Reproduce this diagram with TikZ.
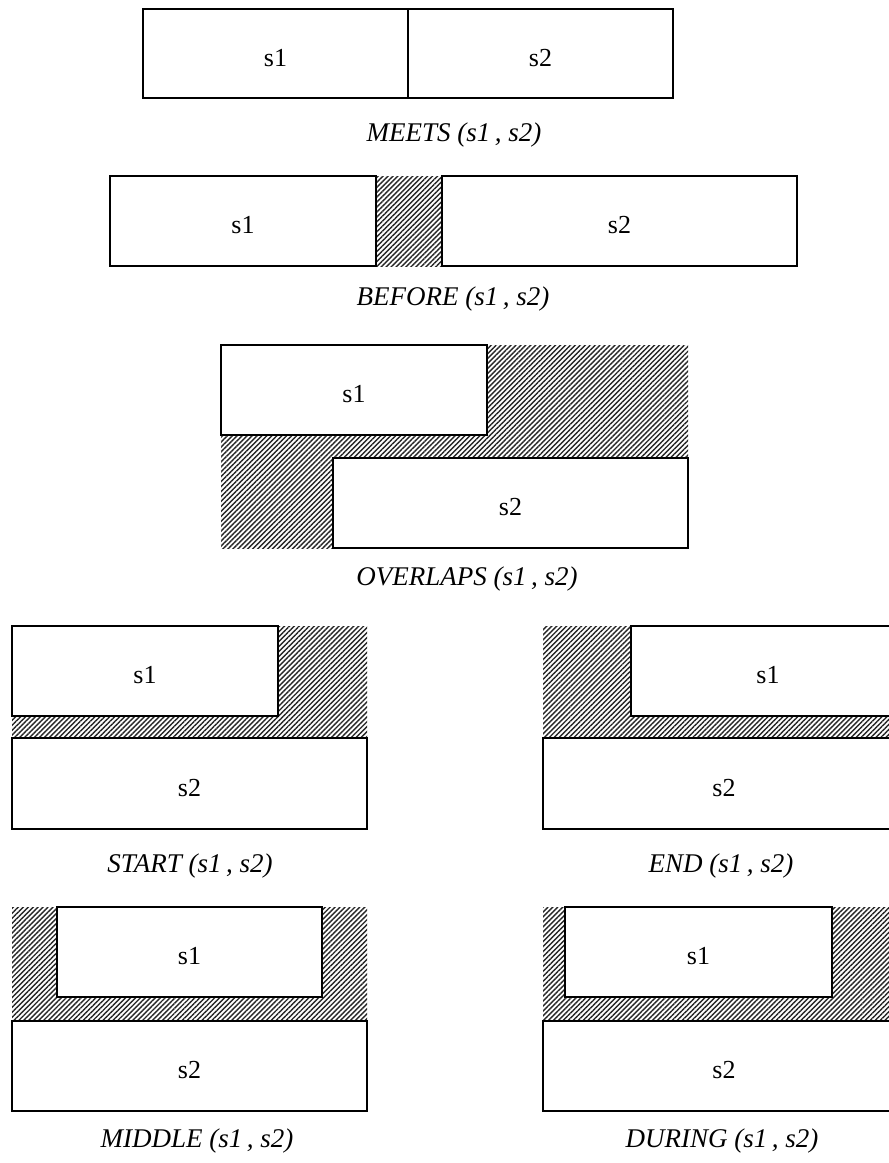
\documentclass[tikz,border=0pt]{standalone}
\usepackage{fontspec}
\setmainfont{Liberation Serif}
\usetikzlibrary{patterns.meta}

% interval box: name, x1, y1, x2, y2, text
\newcommand\ivbox[6]{%
  \node[segbox, minimum width={(#4-#2)*1pt}, minimum height={(#5-#3)*1pt}]
    (#1) at ({(#2+#4)/2},{(#3+#5)/2}) {#6};}
% hatched gap region: x1, y1, x2, y2
\newcommand\gap[4]{\fill[hatch] (#1,#2) rectangle (#3,#4);}

\tikzset{
  segbox/.style={draw=black, fill=white, line width=1.7pt, inner sep=0pt,
    outer sep=0pt, text height=25pt, text depth=0pt,
    font=\fontsize{26}{30}\selectfont},
  hatch/.style={pattern={Lines[angle=45,distance=3.5pt,line width=1.4pt]},
    pattern color=black!85},
  caption/.style={font=\fontsize{27}{32}\selectfont\itshape, inner sep=0pt}
}

\begin{document}
\begin{tikzpicture}[x=1pt,y=-1pt]
\useasboundingbox (0,0) rectangle (889,1163);
\clip (0,0) rectangle (889,1163);

% MEETS
\ivbox{ms1}{143}{9}{408}{98}{s1}
\ivbox{ms2}{408}{9}{673}{98}{s2}
\node[caption] (lmeets) at (454,135) {MEETS (s1\,, s2)};

% BEFORE
\gap{376}{176}{442}{266}
\ivbox{bs1}{110}{176}{376}{266}{s1}
\ivbox{bs2}{442}{176}{797}{266}{s2}
\node[caption] (lbefore) at (453,299) {BEFORE (s1\,, s2)};

% OVERLAPS
\gap{221}{345}{688}{548}
\ivbox{os1}{221}{345}{487}{435}{s1}
\ivbox{os2}{333}{458}{688}{548}{s2}
\node[caption] (loverlaps) at (467,579) {OVERLAPS (s1\,, s2)};

% START
\gap{12}{626}{367}{738}
\ivbox{ss1}{12}{626}{278}{716}{s1}
\ivbox{ss2}{12}{738}{367}{829}{s2}
\node[caption] (lstart) at (190,866) {START (s1\,, s2)};

% END
\gap{543}{626}{905}{738}
\ivbox{es1}{631}{626}{905}{716}{s1}
\ivbox{es2}{543}{738}{905}{829}{s2}
\node[caption] (lend) at (721,866) {END (s1\,, s2)};

% MIDDLE
\gap{12}{907}{367}{1021}
\ivbox{ds1}{57}{907}{322}{997}{s1}
\ivbox{ds2}{12}{1021}{367}{1111}{s2}
\node[caption] (lmiddle) at (197,1141) {MIDDLE (s1\,, s2)};

% DURING
\gap{543}{907}{905}{1021}
\ivbox{us1}{565}{907}{832}{997}{s1}
\ivbox{us2}{543}{1021}{905}{1111}{s2}
\node[caption] (lduring) at (722,1141) {DURING (s1\,, s2)};
\end{tikzpicture}
\end{document}
